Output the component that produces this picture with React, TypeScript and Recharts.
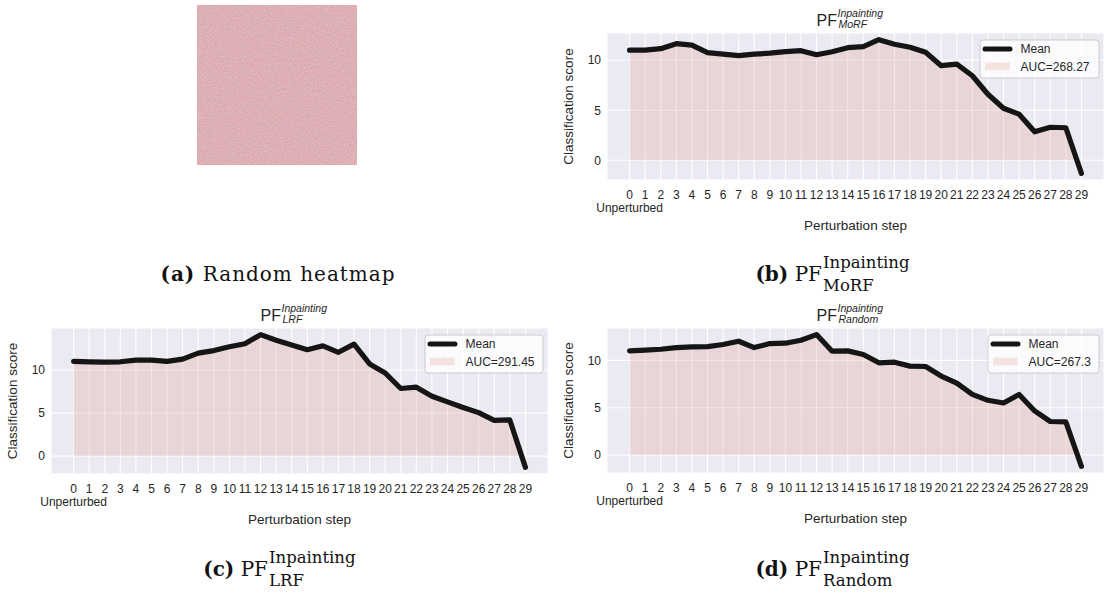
import React from "react";
import { ComposedChart, Area, Line, XAxis, YAxis, CartesianGrid } from "recharts";

// perturbation steps (0 = unperturbed image)
const steps = [0, 1, 2, 3, 4, 5, 6, 7, 8, 9, 10, 11, 12, 13, 14, 15, 16, 17, 18, 19, 20, 21, 22, 23, 24, 25, 26, 27, 28, 29];

// mean classification score per step
const morfScores = [11.0, 11.0, 11.15, 11.65, 11.5, 10.75, 10.6, 10.45, 10.6, 10.7, 10.85, 10.95, 10.55, 10.85, 11.25, 11.35, 12.05, 11.6, 11.3, 10.8, 9.45, 9.6, 8.45, 6.6, 5.2, 4.6, 2.85, 3.3, 3.25, -1.3];
const lrfScores = [11.0, 10.95, 10.9, 10.95, 11.15, 11.15, 11.0, 11.25, 11.95, 12.25, 12.7, 13.05, 14.1, 13.45, 12.9, 12.35, 12.8, 12.05, 13.0, 10.7, 9.65, 7.85, 8.0, 6.95, 6.3, 5.65, 5.05, 4.15, 4.2, -1.3];
const randomScores = [11.0, 11.07, 11.17, 11.35, 11.42, 11.45, 11.67, 12.02, 11.35, 11.77, 11.81, 12.12, 12.72, 10.97, 11.0, 10.62, 9.74, 9.81, 9.39, 9.35, 8.34, 7.6, 6.4, 5.78, 5.5, 6.4, 4.66, 3.54, 3.5, -1.2];

const yTicks = [0, 5, 10];
const morfAuc = "AUC=268.27";
const lrfAuc = "AUC=291.45";
const randomAuc = "AUC=267.3";

const SANS = "'Liberation Sans', Arial, Helvetica, sans-serif";
const SERIF = "'DejaVu Serif', 'Liberation Serif', serif";
const TEXT = "#262626";
const FILL = "#e0a090";

// matplotlib-style 5% padding around the data
function paddedDomain(values: number[]): [number, number] {
  const lo = Math.min(...values);
  const hi = Math.max(...values);
  const pad = (hi - lo) * 0.05;
  return [lo - pad, hi + pad];
}

const StepTick = (props: any) => {
  const { x, y, payload } = props;
  return (
    <text x={x} y={y} textAnchor="middle" fill={TEXT} fontSize={12} fontFamily={SANS}>
      <tspan x={x} dy="0.71em">{payload.value}</tspan>
      {payload.value === 0 && <tspan x={x} dy="1.15em">Unperturbed</tspan>}
    </text>
  );
};

interface Box { left: number; top: number; width: number; height: number }
interface Plot { l: number; r: number; t: number; b: number }

const YW = 30;
const XH = 40;

const Panel = ({ box, plot, scores }: { box: Box; plot: Plot; scores: number[] }) => {
  const rows = steps.map((s, i) => ({ step: s, score: scores[i] }));
  const margin = {
    left: plot.l - box.left - YW,
    right: box.left + box.width - plot.r,
    top: plot.t - box.top,
    bottom: box.top + box.height - plot.b - XH,
  };
  return (
    <div style={{ position: "absolute", left: box.left, top: box.top }}>
      <ComposedChart width={box.width} height={box.height} data={rows} margin={margin}>
        <CartesianGrid fill="#EAEAF2" fillOpacity={1} stroke="#ffffff" strokeWidth={1.1} />
        <XAxis
          dataKey="step"
          type="number"
          domain={[-1.45, 30.45]}
          ticks={steps}
          interval={0}
          axisLine={false}
          tickLine={false}
          tickSize={0}
          tickMargin={10}
          height={XH}
          allowDataOverflow
          tick={(p: any) => <StepTick {...p} />}
        />
        <YAxis
          type="number"
          domain={paddedDomain(scores)}
          ticks={yTicks}
          interval={0}
          axisLine={false}
          tickLine={false}
          tickSize={0}
          tickMargin={6}
          width={YW}
          allowDataOverflow
          tick={{ fill: TEXT, fontSize: 12, fontFamily: SANS }}
        />
        <Area
          type="linear"
          dataKey="score"
          baseValue={0}
          stroke="none"
          fill={FILL}
          fillOpacity={0.27}
          isAnimationActive={false}
        />
        <Line
          type="linear"
          dataKey="score"
          stroke="#151515"
          strokeWidth={5.2}
          strokeLinejoin="round"
          strokeLinecap="round"
          dot={false}
          activeDot={false}
          isAnimationActive={false}
        />
      </ComposedChart>
    </div>
  );
};

// title, axis labels and legend drawn on top of a panel
const PanelText = ({ plot, method, auc, legW }: { plot: Plot; method: string; auc: string; legW: number }) => {
  const cx = (plot.l + plot.r) / 2;
  const lx = plot.r - 5 - legW;
  const ly = plot.t + 7;
  const ylx = plot.l - 38;
  const yly = (plot.t + plot.b) / 2;
  return (
    <g fontFamily={SANS} fill={TEXT}>
      <text x={cx - 18.5} y={plot.t - 7} fontSize={16} textAnchor="end">PF</text>
      <text x={cx - 18} y={plot.t - 16} fontSize={10.5} fontStyle="italic">Inpainting</text>
      <text x={cx - 17} y={plot.t - 5} fontSize={10.5} fontStyle="italic">{method}</text>
      <text x={cx} y={plot.b + 50} fontSize={13.5} textAnchor="middle">Perturbation step</text>
      <text
        x={ylx}
        y={yly}
        fontSize={13.5}
        textAnchor="middle"
        dominantBaseline="middle"
        transform={`rotate(-90 ${ylx} ${yly})`}
      >
        Classification score
      </text>
      <rect x={lx} y={ly} width={legW} height={38} rx={3} fill="#ffffff" fillOpacity={0.8} stroke="#cccccc" strokeWidth={1} />
      <line x1={lx + 5} x2={lx + 30} y1={ly + 9} y2={ly + 9} stroke="#151515" strokeWidth={5} strokeLinecap="round" />
      <text x={lx + 40.5} y={ly + 13.3} fontSize={12}>Mean</text>
      <rect x={lx + 5} y={ly + 22.7} width={24.5} height={7.6} fill={FILL} fillOpacity={0.27} />
      <text x={lx + 40.5} y={ly + 31} fontSize={12}>{auc}</text>
    </g>
  );
};

const Caption = ({ x, y, tag, method }: { x: number; y: number; tag: string; method: string }) => (
  <g fontFamily={SERIF} fill="#111">
    <text x={x} y={y} fontSize={20} textAnchor="end">
      <tspan fontWeight={700}>{tag}</tspan> PF
    </text>
    <text x={x + 1} y={y - 13} fontSize={16.5}>Inpainting</text>
    <text x={x + 1} y={y + 9.5} fontSize={16.5}>{method}</text>
  </g>
);

const morfPlot = { l: 607, r: 1104, t: 33, b: 180 };
const lrfPlot = { l: 51, r: 548, t: 328, b: 474 };
const randomPlot = { l: 607, r: 1104, t: 328, b: 473 };

export default function App() {
  return (
    <div style={{ position: "absolute", left: 0, top: 0, width: 1104, height: 594, background: "#ffffff", overflow: "hidden" }}>
      {/* (a) random heatmap: plain noise texture */}
      <svg width={160} height={160} style={{ position: "absolute", left: 197, top: 5 }}>
        <defs>
          <filter id="grain" x="0" y="0" width="100%" height="100%" colorInterpolationFilters="sRGB">
            <feTurbulence type="fractalNoise" baseFrequency="0.8" numOctaves={2} seed={7} stitchTiles="stitch" />
            <feColorMatrix type="matrix" values="-0.1 0 0 0 0.92  0.3 0 0 0 0.54  0.2 0 0 0 0.61  0 0 0 0 1" />
          </filter>
        </defs>
        <rect width={160} height={160} filter="url(#grain)" />
      </svg>

      <Panel box={{ left: 560, top: 0, width: 544, height: 240 }} plot={morfPlot} scores={morfScores} />
      <Panel box={{ left: 0, top: 295, width: 556, height: 240 }} plot={lrfPlot} scores={lrfScores} />
      <Panel box={{ left: 556, top: 295, width: 548, height: 240 }} plot={randomPlot} scores={randomScores} />

      <svg width={1104} height={594} style={{ position: "absolute", left: 0, top: 0, pointerEvents: "none" }}>
        <PanelText plot={morfPlot} method="MoRF" auc={morfAuc} legW={119} />
        <PanelText plot={lrfPlot} method="LRF" auc={lrfAuc} legW={118} />
        <PanelText plot={randomPlot} method="Random" auc={randomAuc} legW={111} />

        <text x={278} y={281} fontFamily={SERIF} fontSize={20} letterSpacing={1} textAnchor="middle" fill="#111">
          <tspan fontWeight={700}>(a)</tspan> Random heatmap
        </text>
        <Caption x={822} y={281} tag="(b)" method="MoRF" />
        <Caption x={268} y={576} tag="(c)" method="LRF" />
        <Caption x={822} y={576} tag="(d)" method="Random" />
      </svg>
    </div>
  );
}
